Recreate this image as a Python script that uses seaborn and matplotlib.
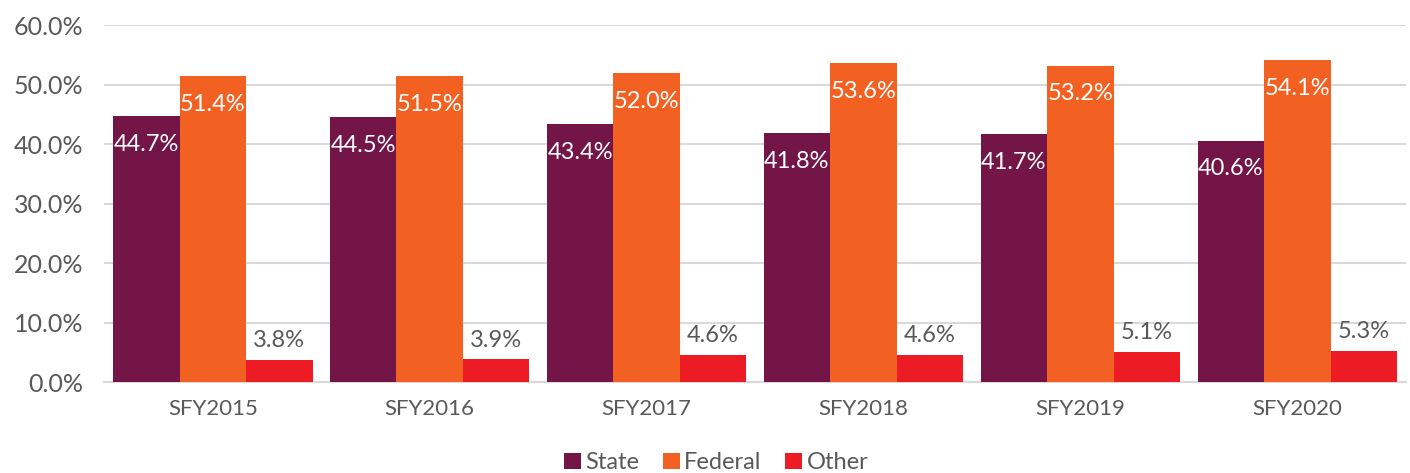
import pandas as pd
import matplotlib
matplotlib.use("Agg")
import matplotlib.pyplot as plt
import seaborn as sns
from matplotlib.ticker import PercentFormatter

years = ["SFY2015", "SFY2016", "SFY2017", "SFY2018", "SFY2019", "SFY2020"]
state = [44.7, 44.5, 43.4, 41.8, 41.7, 40.6]
federal = [51.4, 51.5, 52.0, 53.6, 53.2, 54.1]
other = [3.8, 3.9, 4.6, 4.6, 5.1, 5.3]
sources = ["State", "Federal", "Other"]
colors = ["#731546", "#F26122", "#ED1C24"]

df = pd.DataFrame({"Year": years * 3,
                   "Source": [s for s in sources for _ in years],
                   "Share": state + federal + other})

sns.set_style("white")
plt.rcParams['font.family'] = ['Lato', 'DejaVu Sans']
txt = "#595959"

fig, ax = plt.subplots(figsize=(14.1, 4.73), dpi=100)
fig.subplots_adjust(left=0.074, right=0.997, top=0.947, bottom=0.192)

sns.barplot(data=df, x="Year", y="Share", hue="Source", palette=colors,
            saturation=1, width=0.92, linewidth=0, ax=ax, legend=True, zorder=3)

ax.set_ylim(0, 60)
ax.set_yticks(range(0, 61, 10))
ax.yaxis.set_major_formatter(PercentFormatter(decimals=1))
ax.grid(axis="y", color="#D9D9D9", linewidth=1.5, zorder=0)
ax.set_xlabel("")
ax.set_ylabel("")
for s in ["top", "right", "left"]:
    ax.spines[s].set_visible(False)
ax.spines["bottom"].set_color("#D9D9D9")
ax.spines["bottom"].set_linewidth(1.5)
ax.tick_params(axis="x", length=0, labelsize=16, colors=txt, pad=12)
ax.tick_params(axis="y", length=0, labelsize=18, colors=txt, pad=15)

for i, cont in enumerate(ax.containers):
    if i < 2:
        ax.bar_label(cont, fmt="%.1f%%", label_type="edge", padding=-28,
                     color="white", fontsize=17)
    else:
        ax.bar_label(cont, fmt="%.1f%%", padding=6, color=txt, fontsize=17)

handles, labels = ax.get_legend_handles_labels()
ax.get_legend().remove()
fig.legend(handles, labels, loc="center", bbox_to_anchor=(0.508, 0.022), ncol=3,
           frameon=False, fontsize=17, labelcolor=txt, handlelength=0.7,
           handleheight=0.7, handletextpad=0.2, columnspacing=1.0, borderaxespad=0)

fig.savefig("out.png", dpi=100)
